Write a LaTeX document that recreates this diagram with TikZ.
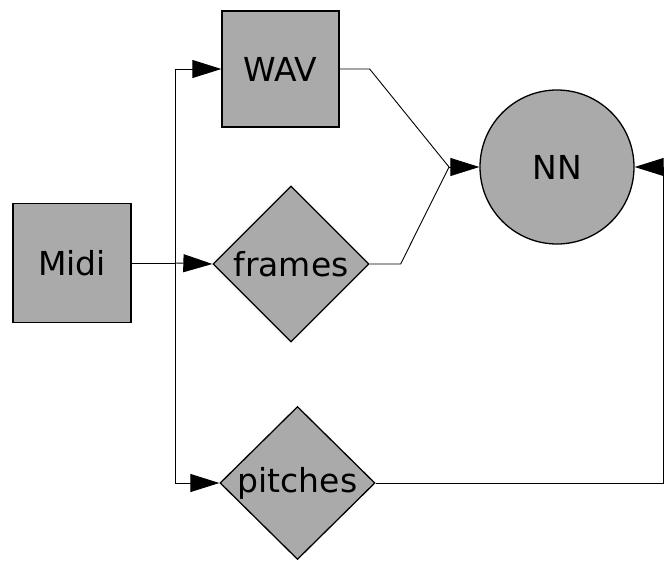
\documentclass[tikz,border=0pt]{standalone}
\usepackage{fontspec}
\setmainfont{DejaVu Sans}
\usetikzlibrary{shapes.geometric,arrows.meta}
\definecolor{boxgray}{RGB}{170,170,170}
\tikzset{
  base/.style={draw=black, line width=1.3pt, fill=boxgray, inner sep=0pt, font=\fontsize{33}{40}\selectfont},
  sqbox/.style={base, rectangle},
  dia/.style={base, diamond, aspect=1},
  circ/.style={base, circle},
  conn/.style={draw=black, line width=0.9pt},
  arr/.style={conn, -{Triangle[length=29pt,width=18pt]}},
}
\begin{document}
\begin{tikzpicture}[x=1pt,y=-1pt]
\useasboundingbox (0,0) rectangle (664,560);
\node[sqbox, minimum width=118pt, minimum height=119pt] (midi) at (72,263) {Midi};
\node[sqbox, minimum width=117pt, minimum height=116pt] (wav) at (280.5,69) {WAV};
\node[dia, minimum width=156pt, minimum height=156pt] (frames) at (291,264) {frames};
\node[dia, minimum width=155pt, minimum height=153pt] (pitches) at (297.5,483) {pitches};
\node[circ, minimum size=154pt] (nn) at (557,167) {NN};
\coordinate (j) at (175,263);
\coordinate (m) at (449,167);
\coordinate (rc) at (663,483);
\draw[conn] (midi.east) -- (j);
\draw[arr] (j) -- (frames.west);
\draw[arr] (j) |- (wav.west);
\draw[arr] (j) |- (pitches.west);
\draw[conn] (wav.east) -- ++(30,0) -- (m);
\draw[conn] (frames.east) -- ++(31,0) -- (m);
\draw[arr] (m) -- (nn.west);
\draw[arr] (pitches.east) -- (rc) |- (nn.east);
\end{tikzpicture}
\end{document}
